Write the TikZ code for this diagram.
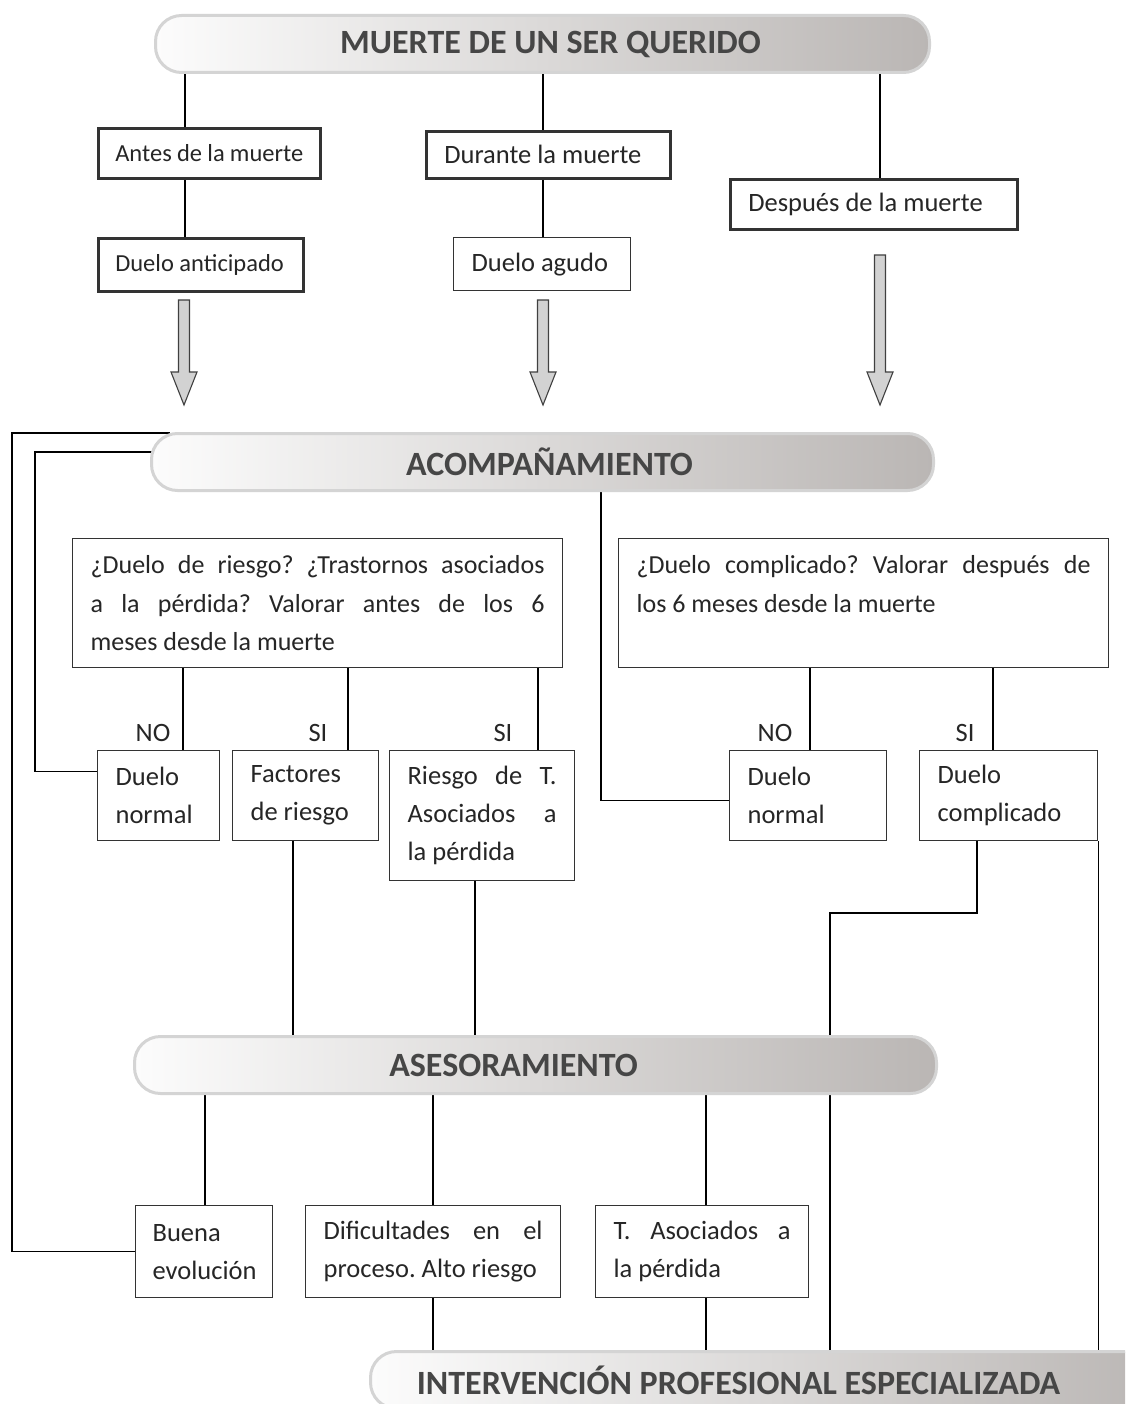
\documentclass[tikz,border=0pt]{standalone}
\usepackage{fontspec}
\setmainfont{Carlito}
\frenchspacing
\usepackage{tikz}
\usetikzlibrary{backgrounds}
\definecolor{bandaizq}{RGB}{252,252,252}
\definecolor{bandader}{RGB}{186,182,180}
\definecolor{bandaborde}{RGB}{212,212,212}
\definecolor{bandatexto}{RGB}{70,70,70}
\definecolor{flechagris}{RGB}{210,210,210}
\newcommand{\flechabloque}[3]{%
  \draw[draw=black!75, line width=1.1pt, fill=flechagris]
    (#1-5.5,#2) -- (#1+5.5,#2) -- (#1+5.5,#3-33) -- (#1+13,#3-33) -- (#1,#3)
    -- (#1-13,#3-33) -- (#1-5.5,#3-33) -- cycle;}

\begin{document}
\begin{tikzpicture}[x=1pt, y=-1pt,
      every node/.append style={font=\fontsize{26.5}{38}\selectfont, text=black!85},
      caja/.style={rectangle, draw=black!80, line width=1.2pt, anchor=north west,
        inner xsep=18pt, inner ysep=0pt, align=justify},
      gruesa/.style={caja, line width=2.6pt},
      banda/.style={draw=bandaborde, line width=3pt, rounded corners=26pt,
        left color=bandaizq, right color=bandader, minimum height=57pt,
        anchor=north west, inner sep=0pt}]
    \tikzstyle{rotulo} = [font=\bfseries\fontsize{34}{40}\selectfont, text=bandatexto]
    \tikzstyle{menor} = [font=\fontsize{24.5}{38}\selectfont, inner xsep=17pt]
    \tikzstyle{pregunta} = [font=\fontsize{26}{38.5}\selectfont]
    \tikzstyle{linea} = [draw=black, line width=1.4pt]
    \tikzstyle{lineagruesa} = [draw=black, line width=2.2pt]
    \useasboundingbox (0,0) rectangle (1125,1404);
    \clip (0,0) rectangle (1125,1404);

    \node[banda, minimum width=774pt, label={[rotulo,xshift=8pt]center:MUERTE DE UN SER QUERIDO}] (muerte) at (154,14) {};
    \node[gruesa, menor, text width=188pt, minimum height=50pt] (antes) at (97,127) {Antes de la muerte};
    \node[gruesa, text width=208pt, minimum height=47pt] (durante) at (425,130) {Durante la muerte};
    \node[gruesa, text width=251pt, minimum height=50pt] (despues) at (729,178) {Después de la muerte};
    \node[gruesa, menor, text width=171pt, minimum height=53pt] (anticipado) at (97,237) {Duelo anticipado};
    \node[caja, text width=141pt, minimum height=53pt] (agudo) at (453,237) {Duelo agudo};

    \flechabloque{184}{300}{405}
    \flechabloque{543}{300}{405}
    \flechabloque{880}{255}{405}

    \node[banda, minimum width=782pt, label={[rotulo,xshift=7pt]center:ACOMPAÑAMIENTO}] (acomp) at (150,432) {};
    \node[caja, pregunta, text width=454pt, minimum height=129pt] (pregA) at (72,538)
      {¿Duelo de riesgo? ¿Trastornos asociados\linebreak a la pérdida? Valorar antes de los 6\linebreak meses desde la muerte};
    \node[caja, pregunta, text width=454pt, minimum height=129pt] (pregB) at (618,538)
      {¿Duelo complicado? Valorar después de\linebreak los 6 meses desde la muerte\\\mbox{}};

    \node (noA) at (153,733) {NO};
    \node (siA) at (318,733) {SI};
    \node (siB) at (503,733) {SI};
    \node (noB) at (775,733) {NO};
    \node (siC) at (965,733) {SI};

    \node[caja, text width=86pt, minimum height=90pt] (normalA) at (97,750) {Duelo\\normal};
    \node[caja, text width=110pt, minimum height=90pt] (factores) at (232,750) {Factores\\de riesgo};
    \node[caja, text width=149pt, minimum height=130pt] (riesgo) at (389,750) {Riesgo de T.\linebreak Asociados a\linebreak la pérdida};
    \node[caja, text width=121pt, minimum height=90pt] (normalB) at (729,750) {Duelo\\normal};
    \node[caja, text width=142pt, minimum height=90pt] (complicado) at (919,750) {Duelo\\complicado};

    \node[banda, minimum width=802pt, label={[rotulo,xshift=-22pt]center:ASESORAMIENTO}] (asesor) at (133,1035) {};
    \node[caja, inner xsep=17pt, text width=103pt, minimum height=92pt] (buena) at (135,1205) {Buena\\evolución};
    \node[caja, text width=219pt, minimum height=92pt] (dificultades) at (305,1205) {Dificultades en el\linebreak proceso. Alto riesgo};
    \node[caja, text width=177pt, minimum height=92pt] (tasoc) at (595,1205) {T. Asociados a\linebreak la pérdida};
    \node[banda, minimum width=790pt, label={[rotulo,xshift=-27pt]center:INTERVENCIÓN PROFESIONAL ESPECIALIZADA}] (interv) at (369,1350) {};

    \begin{scope}[on background layer]
      \fill[white] (0,0) rectangle (1125,1404);
      \draw[linea] (muerte.south -| 185,0) -- (antes.north -| 185,0);
      \draw[linea] (muerte.south -| 543,0) -- (durante.north -| 543,0);
      \draw[linea] (muerte.south -| 880,0) -- (despues.north -| 880,0);
      \draw[linea] (antes.south -| 185,0) -- (anticipado.north -| 185,0);
      \draw[linea] (durante.south -| 543,0) -- (agudo.north -| 543,0);
      % lazos de vuelta al acompanamiento
      \draw[linea] ([xshift=20pt,yshift=-1pt]acomp.north west) -- ++(-158,0) |- (buena.west);
      \draw[linea] ([xshift=15pt,yshift=10pt]acomp.west) -- ++(-130,0) |- ([yshift=24pt]normalA.west);
      \draw[linea] (acomp.south -| 601,0) |- ([yshift=-5pt]normalB.west);
      \draw[linea] (pregA.south -| 183,0) -- (normalA.north -| 183,0);
      \draw[linea] (pregA.south -| 348,0) -- (factores.north -| 348,0);
      \draw[linea] (pregA.south -| 538,0) -- (riesgo.north -| 538,0);
      \draw[linea] (pregB.south -| 810,0) -- (normalB.north -| 810,0);
      \draw[linea] (pregB.south -| 993,0) -- (complicado.north -| 993,0);
      \draw[lineagruesa] (factores.south -| 293,0) -- (asesor.north -| 293,0);
      \draw[lineagruesa] (riesgo.south -| 475,0) -- (asesor.north -| 475,0);
      \draw[lineagruesa] (complicado.south -| 977,0) -- ++(0,72) -| (interv.north -| 830,0);
      \draw[linea] (complicado.south east) -- (interv.north -| complicado.east);
      \draw[linea] (asesor.south -| 205,0) -- (buena.north -| 205,0);
      \draw[linea] (asesor.south -| 433,0) -- (dificultades.north -| 433,0);
      \draw[linea] (asesor.south -| 706,0) -- (tasoc.north -| 706,0);
      \draw[linea] (dificultades.south -| 433,0) -- (interv.north -| 433,0);
      \draw[linea] (tasoc.south -| 706,0) -- (interv.north -| 706,0);
    \end{scope}
  \end{tikzpicture}
\end{document}
